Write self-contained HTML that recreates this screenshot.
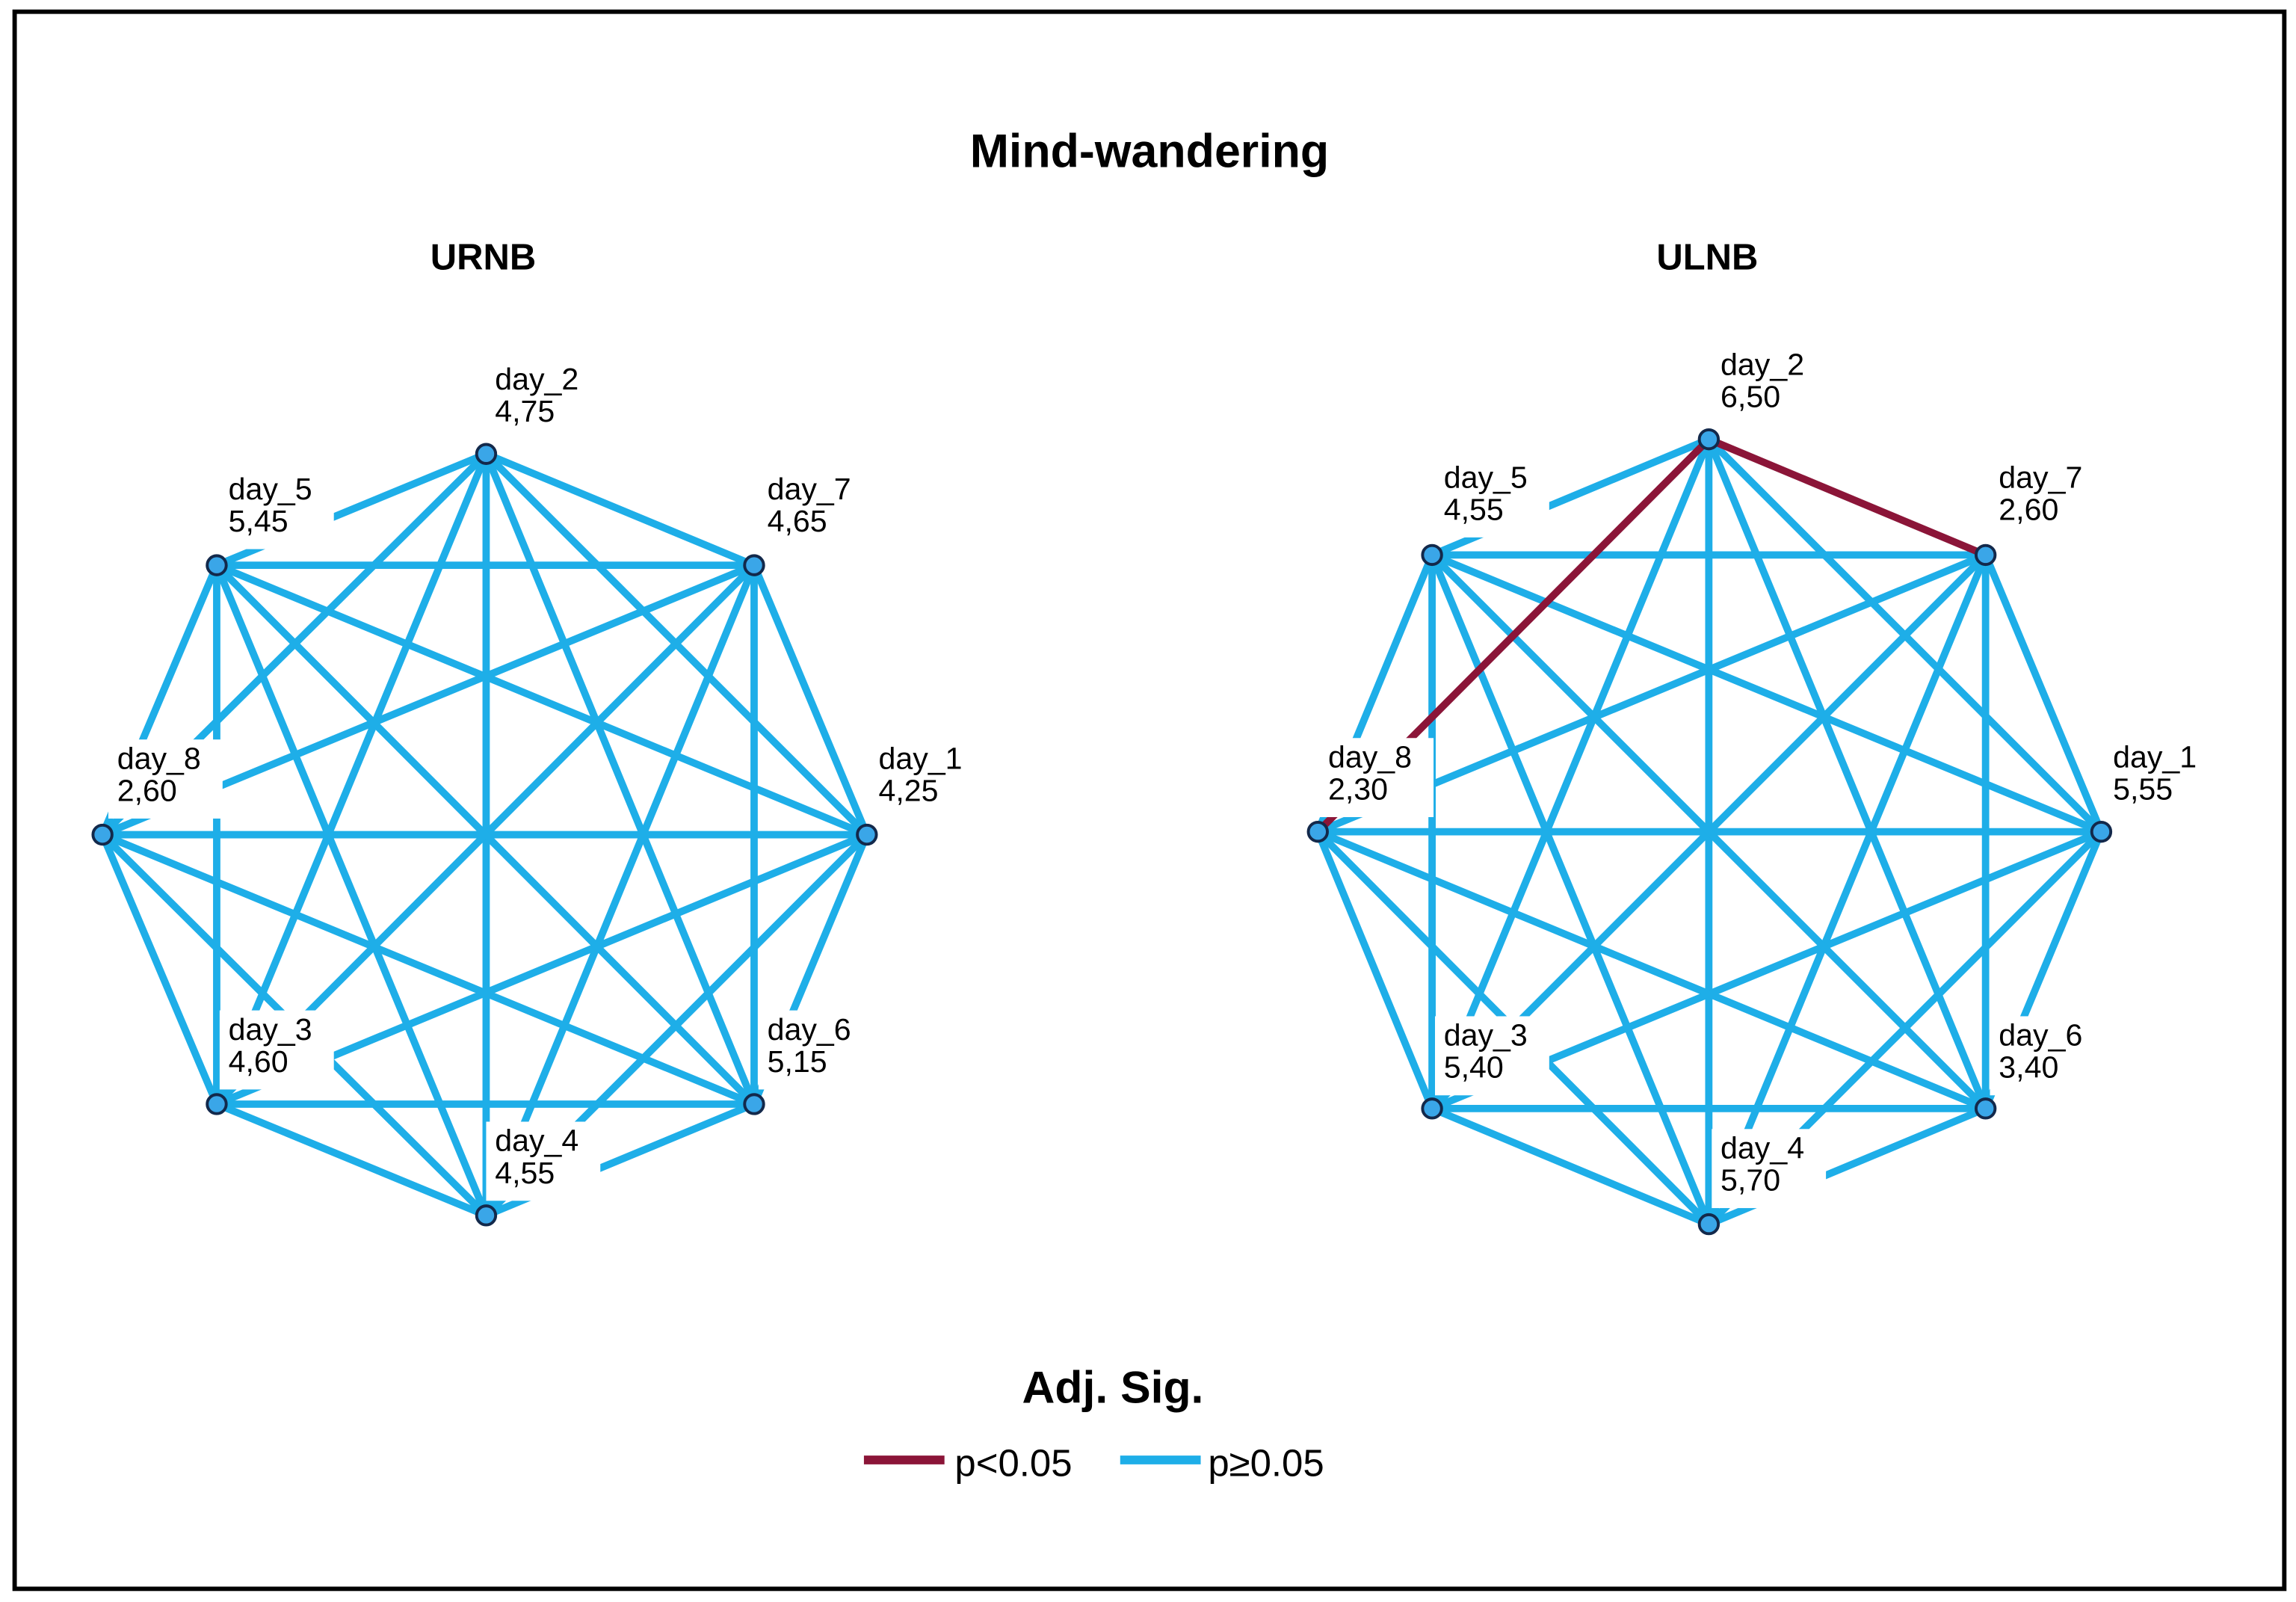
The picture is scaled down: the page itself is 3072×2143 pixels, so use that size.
<!DOCTYPE html>
<html><head><meta charset="utf-8"><style>
html,body{margin:0;padding:0;background:#fff}
svg{display:block}
text{font-family:"Liberation Sans",Arial,sans-serif}
</style></head><body>
<svg id="s" xmlns="http://www.w3.org/2000/svg" width="3072" height="2143" viewBox="0 0 1568 1094" preserveAspectRatio="none">
<rect x="0" y="0" width="1568" height="1094" fill="#fff"/>
<rect x="10" y="8" width="1550" height="1077" fill="none" stroke="#000" stroke-width="3"/>
<text x="785" y="114" font-size="32" font-weight="bold" text-anchor="middle">Mind-wandering</text>
<text x="330" y="184" font-size="25" font-weight="bold" text-anchor="middle">URNB</text>
<text x="1166" y="184" font-size="25" font-weight="bold" text-anchor="middle">ULNB</text>
<text x="760" y="958" font-size="31" font-weight="bold" text-anchor="middle">Adj. Sig.</text>
<line x1="590" y1="997" x2="645" y2="997" stroke="#8b1538" stroke-width="6"/>
<text x="652" y="1008" font-size="26">p&lt;0.05</text>
<line x1="765" y1="997" x2="820" y2="997" stroke="#1eaee8" stroke-width="6"/>
<text x="825" y="1008" font-size="26">p≥0.05</text>
<g id="g"></g>
</svg>
<script>
var NS="http://www.w3.org/2000/svg",g=document.getElementById('g');
function el(t,a,txt){var e=document.createElementNS(NS,t);for(var k in a)e.setAttribute(k,a[k]);if(txt)e.textContent=txt;g.appendChild(e);return e;}
var graphs=[
 {nodes:{d2:[332,310],d7:[515,386],d1:[592,570],d6:[515,754],d4:[332,830],d3:[148,754],d8:[70,570],d5:[148,386]},
  labels:[["day_2","4,75",338,266],["day_5","5,45",156,341],["day_7","4,65",524,341],["day_8","2,60",80,525],["day_1","4,25",600,525],["day_3","4,60",156,710],["day_6","5,15",524,710],["day_4","4,55",338,786]],red:[]},
 {nodes:{d2:[1167,300],d7:[1356,379],d1:[1435,568],d6:[1356,757],d4:[1167,836],d3:[978,757],d8:[900,568],d5:[978,379]},
  labels:[["day_2","6,50",1175,256],["day_5","4,55",986,333],["day_7","2,60",1365,333],["day_8","2,30",907,524],["day_1","5,55",1443,524],["day_3","5,40",986,714],["day_6","3,40",1365,714],["day_4","5,70",1175,791]],red:[["d2","d7"],["d2","d8"]]}
];
graphs.forEach(function(G){
 var k=Object.keys(G.nodes);
 function isRed(a,b){return G.red.some(function(r){return (r[0]==a&&r[1]==b)||(r[0]==b&&r[1]==a);});}
 for(var i=0;i<k.length;i++)for(var j=i+1;j<k.length;j++){
  var a=G.nodes[k[i]],b=G.nodes[k[j]];
  if(isRed(k[i],k[j]))continue;
  el('line',{x1:a[0],y1:a[1],x2:b[0],y2:b[1],stroke:'#1eaee8','stroke-width':5});
 }
 G.red.forEach(function(r){var a=G.nodes[r[0]],b=G.nodes[r[1]];
  el('line',{x1:a[0],y1:a[1],x2:b[0],y2:b[1],stroke:'#8b1538','stroke-width':5});});
 G.labels.forEach(function(L){
  el('rect',{x:L[2]-6,y:L[3]-20,width:78,height:54,fill:'#fff'});
  el('text',{x:L[2],y:L[3],'font-size':21},L[0]);
  el('text',{x:L[2],y:L[3]+22,'font-size':21},L[1]);
 });
 k.forEach(function(n){var p=G.nodes[n];
  el('circle',{cx:p[0],cy:p[1],r:6.5,fill:'#3aa6e8',stroke:'#13294b','stroke-width':2});});
});
</script>
</body></html>
